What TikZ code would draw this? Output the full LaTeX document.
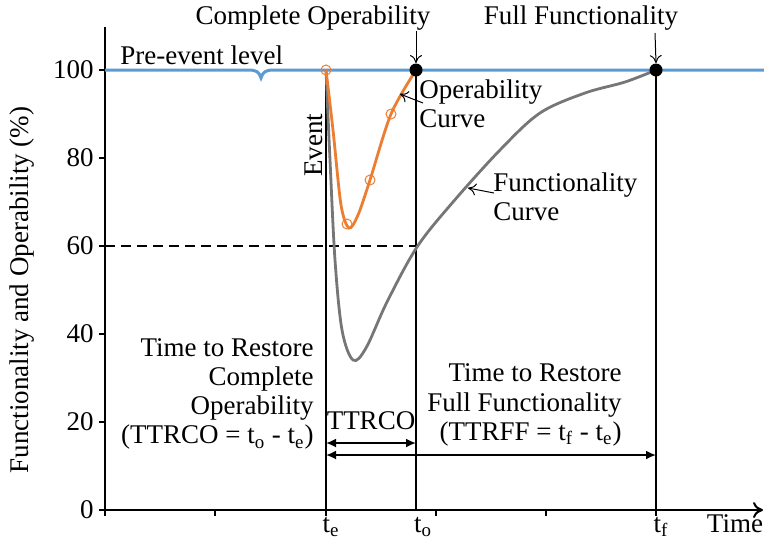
\documentclass[tikz,border=0pt]{standalone}
\usepackage{fontspec}
\setmainfont{Liberation Serif}
\usetikzlibrary{arrows.meta}
\definecolor{preblue}{RGB}{91,155,213}
\definecolor{oporange}{RGB}{237,125,49}
\definecolor{fungray}{RGB}{118,118,118}
\tikzset{
  lbl/.style={inner sep=0pt, font=\fontsize{13.5}{14.6}\selectfont},
  axisline/.style={line width=1pt, black},
  tline/.style={line width=1.2pt, black},
  callout/.style={line width=0.5pt, -{To[length=4pt,width=6pt]}},
  dimarrow/.style={line width=0.9pt, {Latex[length=5pt,width=4.5pt]}-{Latex[length=5pt,width=4.5pt]}},
  omark/.style={draw=oporange, line width=0.5pt, circle, minimum size=5pt, inner sep=0pt},
  bigdot/.style={fill=black, circle, minimum size=6.5pt, inner sep=0pt},
}
\begin{document}
\begin{tikzpicture}[x=0.5pt,y=-0.5pt]
\useasboundingbox (0,0) rectangle (764,548);
% axes
\coordinate (o) at (105,510);
\coordinate (ytop) at (105,27);
\coordinate (xend) at (763,510);
\draw[axisline] (ytop) -- (o);
\draw[axisline,-{To[length=5pt,width=8pt]}] (o) -- (xend);
% y ticks and labels
\foreach \v/\y in {0/510,20/422,40/334,60/246,80/158,100/70}{
  \draw[axisline] (99,\y) -- (105,\y);
  \node[lbl,anchor=east] (yl\v) at (94,\y) {\v};
}
% x ticks
\foreach \x in {105,215,326,436,546,656}{
  \draw[axisline] (\x,510) -- (\x,516);
}
\node[lbl,rotate=90] (ylabel) at (22,290) {Functionality and Operability (\%)};
% x labels
\node[lbl,anchor=base] (te) at (331,532) {t\textsubscript{e}};
\node[lbl,anchor=base] (to) at (423,532) {t\textsubscript{o}};
\node[lbl,anchor=base] (tf) at (661,532) {t\textsubscript{f}};
\node[lbl,anchor=base] (time) at (735,532) {Time};
% pre-event blue line
\draw[preblue,line width=1.5pt] (105,70) -- (248,70) .. controls (257,70) and (259,72) .. (261,78)
  .. controls (263,72) and (265,70) .. (274,70) -- (764,70);
\node[lbl,anchor=base west] (pre) at (120,64) {Pre-event level};
% dashed 60 line
\draw[line width=0.8pt,dash pattern=on 5pt off 3pt] (105,246) -- (416,246);
% vertical time lines
\coordinate (teTop) at (326,70);
\coordinate (toTop) at (416,70);
\coordinate (tfTop) at (656,70);
\draw[tline] (teTop) -- (326,510);
\draw[tline] (toTop) -- (416,510);
\draw[tline] (tfTop) -- (656,510);
% functionality curve
\draw[fungray,line width=1.4pt] plot[smooth,tension=0.55] coordinates {
 (326,70) (330,160) (335,260) (342,330) (353,360) (366,348) (387,302) (417,247)
 (453,202) (500,150) (540,113) (585,93) (625,82) (656,70)};
% operability curve
\draw[oporange,line width=1.4pt] plot[smooth,tension=0.5] coordinates {
 (326,70) (333,130) (341,205) (349,228) (358,215) (370,180) (391,114) (416,70)};
\node[omark] (m1) at (326,70) {};
\node[omark] (m2) at (347,224) {};
\node[omark] (m3) at (370,180) {};
\node[omark] (m4) at (391,114) {};
% dots
\node[bigdot] (dotO) at (416,70) {};
\node[bigdot] (dotF) at (656,70) {};
% event label
\node[lbl,rotate=90] (event) at (314,145) {Event};
% top labels
\node[lbl] (complop) at (313,18) {Complete Operability};
\node[lbl] (fullfun) at (581,18) {Full Functionality};
\coordinate (cA) at (416,31);
\coordinate (fA) at (655,33);
\draw[callout] (cA) -- (dotO.north);
\draw[callout] (fA) -- (dotF.north);
% curve labels
\node[lbl,anchor=west,align=left] (opcurve) at (419,104) {Operability\\Curve};
\node[lbl,anchor=west,align=left] (funcurve) at (493,197) {Functionality\\Curve};
\coordinate (opTail) at (423,103);
\coordinate (opHead) at (400,94);
\coordinate (fnTail) at (494,193);
\coordinate (fnHead) at (468,188);
\draw[callout] (opTail) -- (opHead);
\draw[callout] (fnTail) -- (fnHead);
% bottom text blocks
\node[lbl,anchor=east,align=right] (ttrcotxt) at (314,394) {Time to Restore\\Complete\\Operability\\(TTRCO = t\textsubscript{o} - t\textsubscript{e})};
\node[lbl,anchor=east,align=right] (ttrfftxt) at (622,405) {Time to Restore\\Full Functionality\\(TTRFF = t\textsubscript{f} - t\textsubscript{e})};
\node[lbl] (ttrco) at (371,421) {TTRCO};
\coordinate (a1L) at (326,443);
\coordinate (a1R) at (416,443);
\coordinate (a2L) at (326,455);
\coordinate (a2R) at (656,455);
\draw[dimarrow] (a1L) -- (a1R);
\draw[dimarrow] (a2L) -- (a2R);
\end{tikzpicture}
\end{document}
